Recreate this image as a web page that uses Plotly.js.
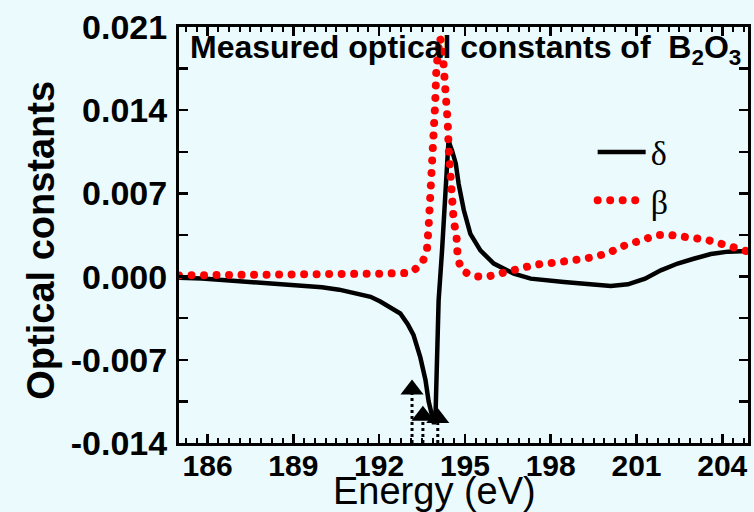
<!DOCTYPE html>
<html>
<head>
<meta charset="utf-8">
<script src="https://cdn.plot.ly/plotly-3.0.1.min.js"></script>
<style>
  html, body { margin: 0; padding: 0; background: #EAFAFD; }
  #chart { width: 754px; height: 512px; }
</style>
</head>
<body>
<div id="chart"></div>
<script>
// ---- data ----
const deltaEnergy = [185.0, 185.8, 187.0, 188.2, 189.2, 190.0, 190.6, 191.2, 191.7, 192.04, 192.4, 192.74, 193.0, 193.2, 193.44, 193.62, 193.73, 193.85, 193.92, 193.97, 194.08, 194.2, 194.32, 194.38, 194.43, 194.47, 194.55, 194.68, 194.78, 194.96, 195.19, 195.54, 196.01, 196.71, 197.3, 198.46, 199.05, 199.5, 200.1, 200.7, 201.3, 201.85, 202.44, 203.0, 203.6, 204.2, 204.9];
const deltaValues = [-0.0001, -0.00017, -0.00037, -0.0006, -0.0007, -0.0009, -0.0011, -0.0014, -0.0017, -0.0021, -0.0026, -0.0031, -0.0040, -0.0049, -0.0068, -0.0087, -0.0105, -0.0118, -0.0124, -0.0118, -0.0020, 0.0022, 0.0078, 0.0106, 0.0116, 0.0111, 0.0106, 0.0095, 0.0078, 0.0056, 0.0036, 0.0022, 0.0011, 0.00025, -0.00017, -0.00045, -0.0006, -0.0007, -0.0008, -0.00065, -0.00017, 0.00053, 0.0011, 0.0015, 0.0019, 0.0021, 0.00215];

const betaEnergy = [185.0, 186.0, 187.0, 188.0, 189.0, 190.0, 191.0, 192.0, 192.9, 193.15, 193.5, 193.67, 193.73, 193.79, 193.85, 193.9, 193.96, 194.0, 194.05, 194.12, 194.2, 194.26, 194.33, 194.38, 194.4, 194.43, 194.47, 194.53, 194.55, 194.61, 194.7, 194.73, 194.75, 194.9, 195.31, 195.75, 196.19, 196.63, 197.06, 197.45, 197.88, 198.32, 198.76, 199.17, 199.58, 200.04, 200.45, 200.86, 201.33, 201.74, 202.18, 202.62, 203.02, 203.46, 203.9, 204.33, 204.75, 204.9];
const betaValues = [0.0001, 0.0001, 0.0001, 0.00012, 0.00015, 0.0002, 0.00022, 0.00025, 0.0003, 0.0004, 0.0011, 0.0022, 0.0042, 0.0064, 0.0092, 0.0123, 0.0146, 0.0175, 0.0195, 0.0201, 0.0196, 0.0180, 0.0160, 0.0146, 0.0129, 0.0108, 0.0088, 0.0077, 0.0056, 0.0046, 0.0036, 0.0026, 0.0015, 0.0005, 0.00003, -0.00003, 0.00025, 0.0005, 0.0007, 0.0010, 0.0011, 0.0012, 0.0013, 0.0015, 0.0017, 0.0020, 0.0025, 0.0028, 0.0033, 0.0035, 0.0035, 0.0034, 0.0033, 0.0031, 0.0028, 0.0025, 0.0022, 0.0021];

const markerEnergy = [193.15, 193.53, 194.05];
const markerValues = [-0.0095, -0.0117, -0.0119];

const xTickVals = [186, 189, 192, 195, 198, 201, 204];
const xTickText = ['186', '189', '192', '195', '198', '201', '204'];
const yTickVals = [-0.014, -0.007, 0, 0.007, 0.014, 0.021];
const yTickText = ['-0.014', '-0.007', '0.000', '0.007', '0.014', '0.021'];

const seriesNames = ['δ', 'β'];
const chartTitle = 'Measured optical constants of  B<sub>2</sub>O<sub>3</sub>';
const xTitle = 'Energy (eV)';
const yTitle = 'Optical constants';

// dotted stems under the triangle markers (bottom axis to each marker)
const yBottom = yTickVals[0];
const stemX = [], stemY = [];
markerEnergy.forEach((e, i) => { stemX.push(e, e, null); stemY.push(yBottom, markerValues[i], null); });

const BG = '#EAFAFD';
const sans = 'Liberation Sans, Arial, sans-serif';

const traces = [
  { x: deltaEnergy, y: deltaValues, name: seriesNames[0], type: 'scatter', mode: 'lines',
    line: { color: '#000000', width: 4.5 }, legendgroup: 'd' },
  { x: stemX, y: stemY, type: 'scatter', mode: 'lines', showlegend: false,
    line: { color: '#000000', width: 3, dash: 'dot' } },
  { x: markerEnergy, y: markerValues, type: 'scatter', mode: 'markers', showlegend: false,
    marker: { symbol: 'triangle-up', size: 20, color: '#000000' } },
  { x: betaEnergy, y: betaValues, name: seriesNames[1], type: 'scatter', mode: 'lines',
    line: { color: '#FF0000', width: 8, dash: 'dot' }, legendgroup: 'b' }
];

const axisCommon = {
  showline: true, linecolor: '#000', linewidth: 3, mirror: 'allticks',
  ticks: 'inside', ticklen: 9, tickwidth: 2.5, tickcolor: '#000',
  showgrid: false, zeroline: false,
  tickfont: { family: sans, size: 30, color: '#000', weight: 'bold' }
};

const layout = {
  width: 754, height: 512,
  paper_bgcolor: BG, plot_bgcolor: BG,
  margin: { l: 179, r: 6, t: 27, b: 69 },
  showlegend: true,
  legend: { x: 0.727, y: 0.768, xanchor: 'left', yanchor: 'top', bgcolor: 'rgba(0,0,0,0)',
            borderwidth: 0, font: { family: 'Liberation Serif, Times New Roman, serif', size: 34, color: '#000' },
            itemwidth: 48, tracegroupgap: 1 },
  xaxis: Object.assign({}, axisCommon, {
    range: [185, 204.9], tickmode: 'array', tickvals: xTickVals, ticktext: xTickText,
    ticklabelstandoff: -6,
    minor: { tick0: 186, dtick: 0.375, ticks: 'inside', ticklen: 5, tickwidth: 2, tickcolor: '#000', showgrid: false }
  }),
  yaxis: Object.assign({}, axisCommon, {
    range: [-0.014, 0.021], tickmode: 'array', tickvals: yTickVals, ticktext: yTickText,
    ticklabelstandoff: 2,
    tickfont: { family: sans, size: 34, color: '#000', weight: 'bold' },
    minor: { tick0: 0, dtick: 0.0035, ticks: 'inside', ticklen: 9, tickwidth: 2.5, tickcolor: '#000', showgrid: false }
  }),
  annotations: [
    { text: chartTitle, xref: 'paper', yref: 'paper', x: 0.016, y: 0.947, xanchor: 'left', yanchor: 'middle',
      showarrow: false, font: { family: sans, size: 32, color: '#000', weight: 'bold' } },
    { text: xTitle, xref: 'paper', yref: 'paper', x: 0.449, y: -0.116, xanchor: 'center', yanchor: 'middle',
      showarrow: false, font: { family: sans, size: 38, color: '#000' } },
    { text: yTitle, xref: 'paper', yref: 'paper', x: -0.243, y: 0.488, xanchor: 'center', yanchor: 'middle',
      textangle: -90, showarrow: false, font: { family: sans, size: 38, color: '#000', weight: 'bold' } }
  ]
};

Plotly.newPlot('chart', traces, layout, { staticPlot: true, displayModeBar: false }).then(() => {
  // make the β dotted line draw round dots like the original
  document.querySelectorAll('#chart path.js-line').forEach(p => {
    const s = p.style.stroke || p.getAttribute('stroke') || '';
    if (/255,\s*0,\s*0/.test(s) || s.toLowerCase() === '#ff0000') {
      p.style.strokeDasharray = '0.01px,12.5px';
      p.style.strokeLinecap = 'round';
    }
  });
});
</script>
</body>
</html>
